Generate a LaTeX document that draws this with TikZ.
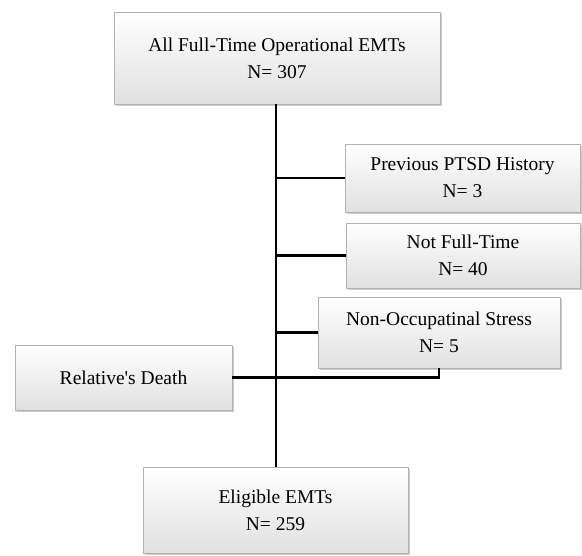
\documentclass[tikz,border=0pt]{standalone}
\usepackage{fontspec}
\setmainfont{Liberation Serif}[Ligatures=TeXOff]
\usepackage{tikz}
\usetikzlibrary{shadows,calc}

\begin{document}
\begin{tikzpicture}[
  x=1pt, y=-1pt,
  box/.style={draw=gray!60, line width=0.6pt, top color=white, bottom color=gray!24,
    drop shadow={opacity=0.4, shadow xshift=2pt, shadow yshift=-2pt},
    align=center, inner sep=0pt, font=\fontsize{19.5}{27}\selectfont},
  link/.style={line width=2.8pt, line cap=butt}
]
\useasboundingbox (0,0) rectangle (582,556);
% flow boxes
\node[box, minimum width=326pt, minimum height=92pt] (all) at (277,58) {All Full-Time Operational EMTs\\N= 307};
\node[box, minimum width=235pt, minimum height=68pt] (ptsd) at (462.5,178) {Previous PTSD History\\N= 3};
\node[box, minimum width=234pt, minimum height=65pt] (notft) at (463,255.5) {Not Full-Time\\N= 40};
\node[box, minimum width=242pt, minimum height=71pt] (nonocc) at (439,332.5) {Non-Occupatinal Stress\\N= 5};
\node[box, minimum width=217pt, minimum height=65pt] (death) at (123.5,377.5) {Relative's Death};
\node[box, minimum width=265pt, minimum height=86pt] (elig) at (275.5,510) {Eligible EMTs\\N= 259};
% connectors
\coordinate (trunk) at ($(all.south)+(-1,0)$);
\draw[link] (trunk) -- (trunk |- elig.north);
\draw[link] (trunk |- ptsd.west) -- (ptsd.west);
\draw[link] (trunk |- notft.west) -- (notft.west);
\draw[link] (trunk |- nonocc.west) -- (nonocc.west);
\draw[link] (nonocc.south) -- (nonocc.south |- death.east) -- (death.east);
\end{tikzpicture}
\end{document}
